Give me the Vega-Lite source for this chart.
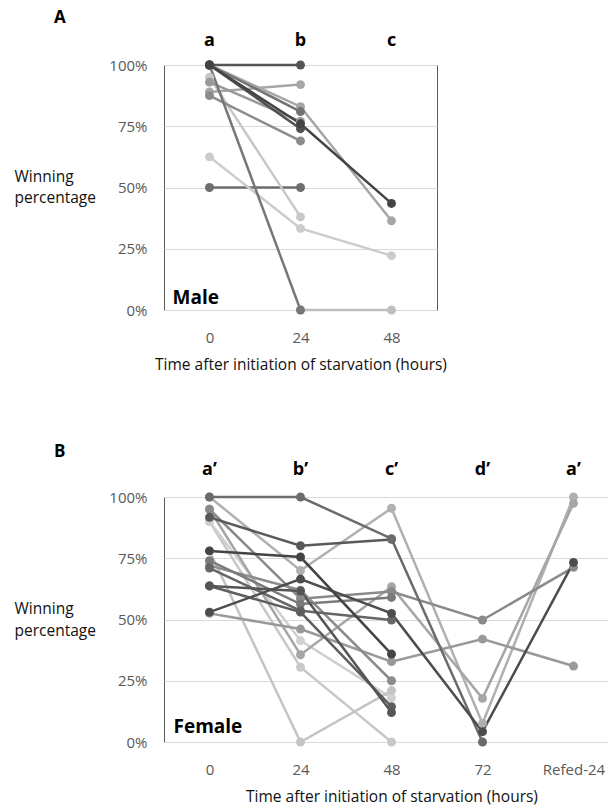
{
  "$schema": "https://vega.github.io/schema/vega-lite/v6.json",
  "padding": {"left": 13, "top": 8, "right": 0, "bottom": 0},
  "background": "white",
  "spacing": 69,
  "config": {
    "font": "Open Sans",
    "view": {"stroke": "#595959", "strokeWidth": 1},
    "axis": {"labelFont": "Open Sans", "labelColor": "#595959", "labelFontSize": 15, "domain": false, "ticks": false, "gridColor": "#d9d9d9", "gridWidth": 1, "titleFont": "Open Sans", "titleFontWeight": "normal", "titleFontSize": 15.5, "titleColor": "#111111"},
    "title": {"font": "Open Sans", "fontSize": 17, "fontWeight": "bold", "color": "#000000"}
  },
  "resolve": {"scale": {"x": "independent", "y": "independent", "color": "independent"}},
  "datasets": {
    "male": [
      {"id": "A12", "t": "0", "v": 0.5}, {"id": "A12", "t": "24", "v": 0.5},
      {"id": "A13", "t": "24", "v": 0}, {"id": "A13", "t": "48", "v": 0},
      {"id": "A10", "t": "0", "v": 0.95}, {"id": "A10", "t": "24", "v": 0.38},
      {"id": "A11", "t": "0", "v": 0.625}, {"id": "A11", "t": "24", "v": 0.333}, {"id": "A11", "t": "48", "v": 0.222},
      {"id": "A7", "t": "0", "v": 0.89}, {"id": "A7", "t": "24", "v": 0.92},
      {"id": "A8", "t": "0", "v": 0.875}, {"id": "A8", "t": "24", "v": 0.69},
      {"id": "A9", "t": "0", "v": 0.93}, {"id": "A9", "t": "24", "v": 0.77},
      {"id": "A4", "t": "0", "v": 1}, {"id": "A4", "t": "24", "v": 0.83}, {"id": "A4", "t": "48", "v": 0.364},
      {"id": "A5", "t": "0", "v": 1}, {"id": "A5", "t": "24", "v": 0.81},
      {"id": "A6", "t": "0", "v": 1}, {"id": "A6", "t": "24", "v": 0},
      {"id": "A3", "t": "0", "v": 1}, {"id": "A3", "t": "24", "v": 0.74},
      {"id": "A1", "t": "0", "v": 1}, {"id": "A1", "t": "24", "v": 1},
      {"id": "A2", "t": "0", "v": 1}, {"id": "A2", "t": "24", "v": 0.76}, {"id": "A2", "t": "48", "v": 0.435}
    ],
    "female": [
      {"id": "F14", "t": "0", "v": 0.9}, {"id": "F14", "t": "24", "v": 0.305}, {"id": "F14", "t": "48", "v": 0},
      {"id": "F13", "t": "0", "v": 0.9}, {"id": "F13", "t": "24", "v": 0.414}, {"id": "F13", "t": "48", "v": 0.18},
      {"id": "F7", "t": "0", "v": 0.78}, {"id": "F7", "t": "24", "v": 0}, {"id": "F7", "t": "48", "v": 0.21},
      {"id": "F6", "t": "0", "v": 1}, {"id": "F6", "t": "24", "v": 0.7}, {"id": "F6", "t": "48", "v": 0.954}, {"id": "F6", "t": "72", "v": 0.076}, {"id": "F6", "t": "Refed-24", "v": 1},
      {"id": "F8", "t": "0", "v": 0.95}, {"id": "F8", "t": "24", "v": 0.356}, {"id": "F8", "t": "48", "v": 0.634}, {"id": "F8", "t": "72", "v": 0.178}, {"id": "F8", "t": "Refed-24", "v": 0.974},
      {"id": "F9", "t": "0", "v": 0.525}, {"id": "F9", "t": "24", "v": 0.461}, {"id": "F9", "t": "48", "v": 0.328}, {"id": "F9", "t": "72", "v": 0.42}, {"id": "F9", "t": "Refed-24", "v": 0.31},
      {"id": "F10", "t": "0", "v": 0.95}, {"id": "F10", "t": "24", "v": 0.585}, {"id": "F10", "t": "48", "v": 0.614}, {"id": "F10", "t": "72", "v": 0.498}, {"id": "F10", "t": "Refed-24", "v": 0.713},
      {"id": "F15", "t": "0", "v": 0.72}, {"id": "F15", "t": "24", "v": 0.62}, {"id": "F15", "t": "48", "v": 0.25},
      {"id": "F11", "t": "0", "v": 0.74}, {"id": "F11", "t": "24", "v": 0.563}, {"id": "F11", "t": "48", "v": 0.59},
      {"id": "F12", "t": "0", "v": 0.71}, {"id": "F12", "t": "24", "v": 0.536}, {"id": "F12", "t": "48", "v": 0.498},
      {"id": "F16", "t": "0", "v": 0.637}, {"id": "F16", "t": "24", "v": 0.53}, {"id": "F16", "t": "48", "v": 0.144},
      {"id": "F5", "t": "0", "v": 0.637}, {"id": "F5", "t": "24", "v": 0.616}, {"id": "F5", "t": "48", "v": 0.12},
      {"id": "F2", "t": "0", "v": 0.917}, {"id": "F2", "t": "24", "v": 0.801}, {"id": "F2", "t": "48", "v": 0.827},
      {"id": "F1", "t": "0", "v": 1}, {"id": "F1", "t": "24", "v": 1}, {"id": "F1", "t": "48", "v": 0.83}, {"id": "F1", "t": "72", "v": 0},
      {"id": "F4", "t": "0", "v": 0.53}, {"id": "F4", "t": "24", "v": 0.665}, {"id": "F4", "t": "48", "v": 0.525}, {"id": "F4", "t": "72", "v": 0.042}, {"id": "F4", "t": "Refed-24", "v": 0.733},
      {"id": "F3", "t": "0", "v": 0.78}, {"id": "F3", "t": "24", "v": 0.755}, {"id": "F3", "t": "48", "v": 0.359}
    ],
    "lettersA": [{"t": "0", "l": "a", "v": 1}, {"t": "24", "l": "b", "v": 1}, {"t": "48", "l": "c", "v": 1}],
    "lettersB": [{"t": "0", "l": "a’", "v": 1}, {"t": "24", "l": "b’", "v": 1}, {"t": "48", "l": "c’", "v": 1}, {"t": "72", "l": "d’", "v": 1}, {"t": "Refed-24", "l": "a’", "v": 1}],
    "sexA": [{"t": "0", "l": "Male", "v": 0}],
    "sexB": [{"t": "0", "l": "Female", "v": 0}]
  },
  "vconcat": [
    {
      "width": 273,
      "height": 245,
      "title": {"text": "A", "anchor": "start", "frame": "group", "dx": -110, "offset": 5},
      "layer": [
        {
          "data": {"name": "male"},
          "mark": {"type": "line", "strokeWidth": 2.5},
          "encoding": {
            "x": {"field": "t", "type": "nominal", "scale": {"type": "point", "padding": 0.5, "domain": ["0", "24", "48"]}, "sort": null,
              "axis": {"labelAngle": 0, "labelPadding": 20, "grid": false, "title": "Time after initiation of starvation (hours)", "titlePadding": 12}},
            "y": {"field": "v", "type": "quantitative", "scale": {"domain": [0, 1], "nice": false},
              "axis": {"values": [0, 0.25, 0.5, 0.75, 1], "format": ".0%", "labelPadding": 17, "title": ["Winning", "percentage"], "titleAngle": 0, "titleAlign": "left", "titleX": -150, "titleY": 111, "titleBaseline": "middle", "titleLineHeight": 21}},
            "color": {"field": "id", "type": "nominal", "legend": null, "scale": {
              "domain": ["A1", "A2", "A3", "A4", "A5", "A6", "A7", "A8", "A9", "A10", "A11", "A12", "A13"],
              "range": ["#555555", "#444444", "#505050", "#a6a6a6", "#737373", "#777777", "#a6a6a6", "#8c8c8c", "#999999", "#c8c8c8", "#cccccc", "#6e6e6e", "#bfbfbf"]}},
            "detail": {"field": "id"}
          }
        },
        {
          "data": {"name": "male"},
          "mark": {"type": "circle", "size": 80, "opacity": 1},
          "encoding": {
            "x": {"field": "t", "type": "nominal", "sort": null},
            "y": {"field": "v", "type": "quantitative"},
            "color": {"field": "id", "type": "nominal", "legend": null}
          }
        },
        {
          "data": {"name": "lettersA"},
          "mark": {"type": "text", "fontSize": 18, "fontWeight": "bold", "fill": "#000000", "dy": -24, "baseline": "middle", "align": "center"},
          "encoding": {
            "x": {"field": "t", "type": "nominal", "sort": null},
            "y": {"field": "v", "type": "quantitative"},
            "text": {"field": "l", "type": "nominal"}
          }
        },
        {
          "data": {"name": "sexA"},
          "mark": {"type": "text", "fontSize": 19, "fontWeight": "bold", "fill": "#000000", "align": "left", "dx": -37, "dy": -12, "baseline": "middle"},
          "encoding": {
            "x": {"field": "t", "type": "nominal", "sort": null},
            "y": {"field": "v", "type": "quantitative"},
            "text": {"field": "l", "type": "nominal"}
          }
        }
      ]
    },
    {
      "width": 455,
      "height": 245,
      "title": {"text": "B", "anchor": "start", "frame": "group", "dx": -110, "offset": 0},
      "layer": [
        {
          "data": {"name": "female"},
          "mark": {"type": "line", "strokeWidth": 2.5},
          "encoding": {
            "x": {"field": "t", "type": "nominal", "scale": {"type": "point", "padding": 0.5, "domain": ["0", "24", "48", "72", "Refed-24"]}, "sort": null,
              "axis": {"labelAngle": 0, "labelPadding": 20, "grid": false, "title": "Time after initiation of starvation (hours)", "titlePadding": 12}},
            "y": {"field": "v", "type": "quantitative", "scale": {"domain": [0, 1], "nice": false},
              "axis": {"values": [0, 0.25, 0.5, 0.75, 1], "format": ".0%", "labelPadding": 17, "title": ["Winning", "percentage"], "titleAngle": 0, "titleAlign": "left", "titleX": -150, "titleY": 111, "titleBaseline": "middle", "titleLineHeight": 22}},
            "color": {"field": "id", "type": "nominal", "legend": null, "scale": {
              "domain": ["F1", "F2", "F3", "F4", "F5", "F6", "F7", "F8", "F9", "F10", "F11", "F12", "F13", "F14", "F15", "F16"],
              "range": ["#6b6b6b", "#595959", "#444444", "#4d4d4d", "#555555", "#b0b0b0", "#c4c4c4", "#a6a6a6", "#999999", "#8a8a8a", "#7a7a7a", "#666666", "#d0d0d0", "#c8c8c8", "#8c8c8c", "#5e5e5e"]}},
            "detail": {"field": "id"}
          }
        },
        {
          "data": {"name": "female"},
          "mark": {"type": "circle", "size": 80, "opacity": 1},
          "encoding": {
            "x": {"field": "t", "type": "nominal", "sort": null},
            "y": {"field": "v", "type": "quantitative"},
            "color": {"field": "id", "type": "nominal", "legend": null}
          }
        },
        {
          "data": {"name": "lettersB"},
          "mark": {"type": "text", "fontSize": 18, "fontWeight": "bold", "fill": "#000000", "dy": -27, "baseline": "middle", "align": "center"},
          "encoding": {
            "x": {"field": "t", "type": "nominal", "sort": null},
            "y": {"field": "v", "type": "quantitative"},
            "text": {"field": "l", "type": "nominal"}
          }
        },
        {
          "data": {"name": "sexB"},
          "mark": {"type": "text", "fontSize": 19, "fontWeight": "bold", "fill": "#000000", "align": "left", "dx": -36, "dy": -15, "baseline": "middle"},
          "encoding": {
            "x": {"field": "t", "type": "nominal", "sort": null},
            "y": {"field": "v", "type": "quantitative"},
            "text": {"field": "l", "type": "nominal"}
          }
        }
      ]
    }
  ]
}
